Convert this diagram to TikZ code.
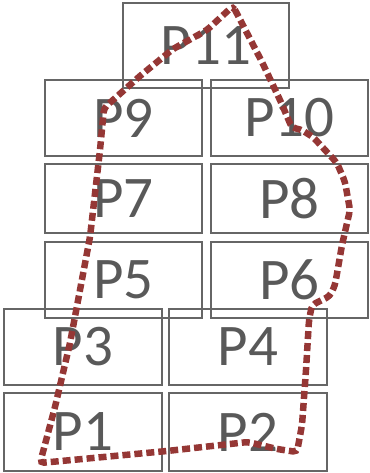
\documentclass[tikz,border=0pt]{standalone}
\usepackage{fontspec}
\setmainfont{Carlito}
\usetikzlibrary{positioning}
\definecolor{boxgray}{HTML}{666666}
\definecolor{textgray}{HTML}{595959}
\definecolor{routered}{HTML}{953735}

\begin{document}
\begin{tikzpicture}[x=1pt, y=-1pt,
    pbox/.style={draw=boxgray, line width=1.5pt, rectangle, inner sep=0pt,
                 minimum width=157pt, minimum height=76pt, text=textgray,
                 font=\fontsize{59}{59}\selectfont},
    route/.style={draw=routered, line width=6.5pt, dash pattern=on 8pt off 4pt,
                  rounded corners=4pt}]
  \useasboundingbox (0,0) rectangle (369,473);

  % top box
  \node[pbox, minimum width=166pt, minimum height=85pt] (p11) at (206,45.5) {P11};

  % upper block
  \node[pbox] (p9)  at (123.5,118) {P9};
  \node[pbox] (p10) at (289.5,118) {P10};
  \node[pbox, minimum height=69pt] (p7) at (123.5,198.5) {P7};
  \node[pbox, minimum height=69pt] (p8) at (289.5,198.5) {P8};
  \node[pbox] (p5)  at (123.5,280) {P5};
  \node[pbox] (p6)  at (289.5,280) {P6};

  % lower block
  \node[pbox, minimum width=158pt] (p3) at (83,347) {P3};
  \node[pbox, minimum width=158pt] (p4) at (248,347) {P4};
  \node[pbox, minimum width=158pt, minimum height=78pt] (p1) at (83,432) {P1};
  \node[pbox, minimum width=158pt, minimum height=78pt] (p2) at (248,432) {P2};

  % dotted outline
  \draw[route] (233,6) -- (262,62) -- (280,100) -- (292,128) -- (300,129)
    -- (313,137) -- (337,163) -- (345,182) -- (350,210) -- (342,245)
    -- (335,285) -- (330,296) -- (312,305) -- (309,320) -- (306,370)
    -- (302,425) -- (297,452) -- (277,449) -- (248,442) -- (167,451)
    -- (40,463) -- (55,407) -- (70,343) -- (90,237) -- (100,150)
    -- (104,108) -- (140,76) -- (173,49) -- (207,30) -- cycle;
\end{tikzpicture}
\end{document}
